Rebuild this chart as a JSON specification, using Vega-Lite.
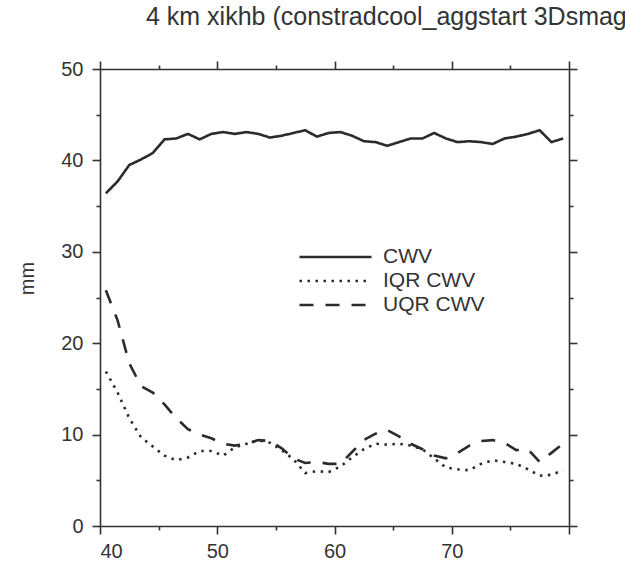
{
  "$schema": "https://vega.github.io/schema/vega-lite/v6.json",
  "width": 469,
  "height": 457,
  "autosize": "none",
  "padding": {"left": 100, "top": 69, "right": 56, "bottom": 46},
  "background": "white",
  "title": {
    "text": "4 km xikhb (constradcool_aggstart 3Dsmag)",
    "anchor": "start",
    "frame": "group",
    "dx": 46,
    "fontSize": 25,
    "fontWeight": "normal",
    "font": "Liberation Sans",
    "color": "#333",
    "offset": 29
  },
  "data": {
    "values": [
      {"bin": 40.5, "CWV": 36.4, "IQR CWV": 16.9, "UQR CWV": 25.8},
      {"bin": 41.5, "CWV": 37.7, "IQR CWV": 14.6, "UQR CWV": 22.5},
      {"bin": 42.5, "CWV": 39.5, "IQR CWV": 11.8, "UQR CWV": 17.8},
      {"bin": 43.5, "CWV": 40.1, "IQR CWV": 9.7, "UQR CWV": 15.3},
      {"bin": 44.5, "CWV": 40.8, "IQR CWV": 8.7, "UQR CWV": 14.6},
      {"bin": 45.5, "CWV": 42.3, "IQR CWV": 7.7, "UQR CWV": 13.3},
      {"bin": 46.5, "CWV": 42.4, "IQR CWV": 7.2, "UQR CWV": 11.8},
      {"bin": 47.5, "CWV": 42.9, "IQR CWV": 7.5, "UQR CWV": 10.6},
      {"bin": 48.5, "CWV": 42.3, "IQR CWV": 8.2, "UQR CWV": 10.0},
      {"bin": 49.5, "CWV": 42.9, "IQR CWV": 8.2, "UQR CWV": 9.6},
      {"bin": 50.5, "CWV": 43.1, "IQR CWV": 7.7, "UQR CWV": 9.0},
      {"bin": 51.5, "CWV": 42.9, "IQR CWV": 8.6, "UQR CWV": 8.8},
      {"bin": 52.5, "CWV": 43.1, "IQR CWV": 9.0, "UQR CWV": 9.0},
      {"bin": 53.5, "CWV": 42.9, "IQR CWV": 9.4, "UQR CWV": 9.4},
      {"bin": 54.5, "CWV": 42.5, "IQR CWV": 9.1, "UQR CWV": 9.3},
      {"bin": 55.5, "CWV": 42.7, "IQR CWV": 8.3, "UQR CWV": 8.5},
      {"bin": 56.5, "CWV": 43.0, "IQR CWV": 7.3, "UQR CWV": 7.4},
      {"bin": 57.5, "CWV": 43.3, "IQR CWV": 5.8, "UQR CWV": 6.9},
      {"bin": 58.5, "CWV": 42.6, "IQR CWV": 6.0, "UQR CWV": 7.0},
      {"bin": 59.5, "CWV": 43.0, "IQR CWV": 5.9, "UQR CWV": 6.8},
      {"bin": 60.5, "CWV": 43.1, "IQR CWV": 6.5, "UQR CWV": 6.8},
      {"bin": 61.5, "CWV": 42.7, "IQR CWV": 7.5, "UQR CWV": 8.1},
      {"bin": 62.5, "CWV": 42.1, "IQR CWV": 8.4, "UQR CWV": 9.4},
      {"bin": 63.5, "CWV": 42.0, "IQR CWV": 9.0, "UQR CWV": 10.1},
      {"bin": 64.5, "CWV": 41.6, "IQR CWV": 8.9, "UQR CWV": 10.5},
      {"bin": 65.5, "CWV": 42.0, "IQR CWV": 9.0, "UQR CWV": 9.8},
      {"bin": 66.5, "CWV": 42.4, "IQR CWV": 8.8, "UQR CWV": 9.0},
      {"bin": 67.5, "CWV": 42.4, "IQR CWV": 8.4, "UQR CWV": 8.4},
      {"bin": 68.5, "CWV": 43.0, "IQR CWV": 7.4, "UQR CWV": 7.7},
      {"bin": 69.5, "CWV": 42.4, "IQR CWV": 6.4, "UQR CWV": 7.4},
      {"bin": 70.5, "CWV": 42.0, "IQR CWV": 6.2, "UQR CWV": 8.0},
      {"bin": 71.5, "CWV": 42.1, "IQR CWV": 6.1, "UQR CWV": 8.8},
      {"bin": 72.5, "CWV": 42.0, "IQR CWV": 6.8, "UQR CWV": 9.3},
      {"bin": 73.5, "CWV": 41.8, "IQR CWV": 7.2, "UQR CWV": 9.4},
      {"bin": 74.5, "CWV": 42.4, "IQR CWV": 7.0, "UQR CWV": 9.1},
      {"bin": 75.5, "CWV": 42.6, "IQR CWV": 6.8, "UQR CWV": 8.3},
      {"bin": 76.5, "CWV": 42.9, "IQR CWV": 6.2, "UQR CWV": 8.4},
      {"bin": 77.5, "CWV": 43.3, "IQR CWV": 5.5, "UQR CWV": 7.0},
      {"bin": 78.5, "CWV": 42.0, "IQR CWV": 5.6, "UQR CWV": 8.0},
      {"bin": 79.5, "CWV": 42.4, "IQR CWV": 6.1, "UQR CWV": 9.0}
    ]
  },
  "transform": [
    {"fold": ["CWV", "IQR CWV", "UQR CWV"], "as": ["series", "value"]}
  ],
  "layer": [
    {
      "mark": {"type": "line", "color": "#2b2b2b", "strokeWidth": 2.6, "strokeCap": "butt"},
      "encoding": {
        "x": {
          "field": "bin", "type": "quantitative",
          "scale": {"domain": [40, 80], "nice": false, "zero": false},
          "axis": {
            "orient": "bottom", "title": null, "grid": false,
            "values": [40, 45, 50, 55, 60, 65, 70, 75, 80],
            "labelExpr": "datum.value % 10 === 0 && datum.value < 80 ? datum.label : ''",
            "tickSize": {"condition": {"test": "datum.value % 10 === 0", "value": 8}, "value": 4},
            "labelPadding": 7
          }
        },
        "y": {
          "field": "value", "type": "quantitative",
          "scale": {"domain": [0, 50], "nice": false},
          "axis": {
            "orient": "left", "title": "mm", "grid": false,
            "values": [0, 5, 10, 15, 20, 25, 30, 35, 40, 45, 50],
            "labelExpr": "datum.value % 10 === 0 ? datum.label : ''",
            "tickSize": {"condition": {"test": "datum.value % 10 === 0", "value": 8}, "value": 4},
            "labelPadding": 9,
            "titleX": -73,
            "titleY": 209,
            "titleAngle": -90,
            "titleBaseline": "middle",
            "titleAlign": "center"
          }
        },
        "strokeDash": {
          "field": "series", "type": "nominal",
          "scale": {"domain": ["CWV", "IQR CWV", "UQR CWV"], "range": [[1, 0], [2.5, 5.5], [14, 12]]},
          "legend": {
            "orient": "none",
            "legendX": 198,
            "legendY": 176,
            "title": null,
            "symbolType": "stroke",
            "symbolSize": 5184,
            "symbolStrokeWidth": 2.6,
            "symbolStrokeColor": "#2b2b2b",
            "labelFontSize": 21,
            "labelFont": "Liberation Sans",
            "labelColor": "#333",
            "labelOffset": 10,
            "clipHeight": 24,
            "rowPadding": 0
          }
        }
      }
    },
    {
      "mark": {"type": "point", "opacity": 0},
      "encoding": {
        "x": {
          "field": "bin", "type": "quantitative",
          "axis": {
            "orient": "top", "title": null, "grid": false, "labels": false,
            "values": [40, 45, 50, 55, 60, 65, 70, 75, 80],
            "tickSize": {"condition": {"test": "datum.value % 10 === 0", "value": 8}, "value": 4}
          }
        },
        "y": {
          "field": "value", "type": "quantitative",
          "axis": {
            "orient": "right", "title": null, "grid": false, "labels": false,
            "values": [0, 5, 10, 15, 20, 25, 30, 35, 40, 45, 50],
            "tickSize": {"condition": {"test": "datum.value % 10 === 0", "value": 8}, "value": 4}
          }
        }
      }
    }
  ],
  "resolve": {"axis": {"x": "independent", "y": "independent"}},
  "config": {
    "view": {"stroke": null},
    "font": "Liberation Sans",
    "axis": {
      "domainColor": "#333",
      "domainWidth": 1.6,
      "tickColor": "#333",
      "tickWidth": 1.6,
      "labelFont": "Liberation Sans",
      "labelFontSize": 20,
      "labelColor": "#333",
      "titleFont": "Liberation Sans",
      "titleFontSize": 20,
      "titleFontWeight": "normal",
      "titleColor": "#333",
      "labelOverlap": false
    }
  }
}
